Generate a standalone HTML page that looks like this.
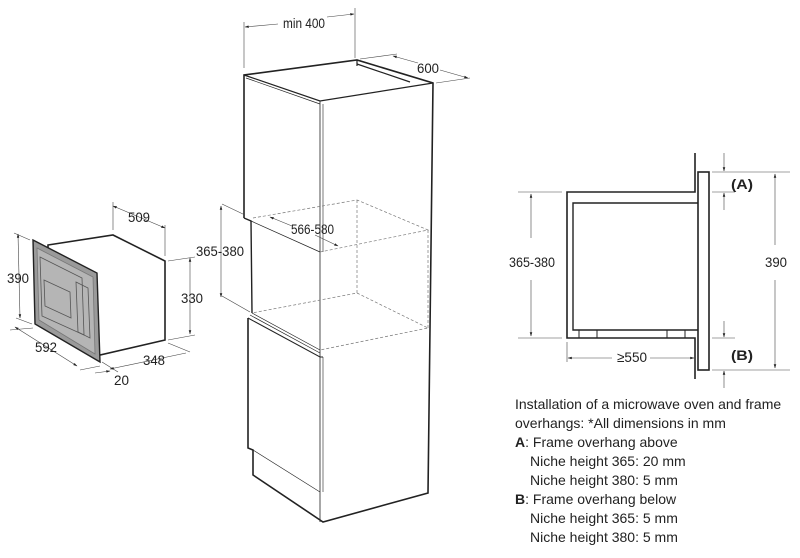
<!DOCTYPE html>
<html><head><meta charset="utf-8"><style>
body{margin:0;background:#fff}
svg{display:block}
text{font-family:"Liberation Sans",sans-serif;fill:#222}
</style></head><body>
<svg width="800" height="558" viewBox="0 0 800 558" xmlns="http://www.w3.org/2000/svg">
<defs>
<marker id="a" viewBox="0 0 10 10" refX="9" refY="5" markerWidth="7" markerHeight="7" orient="auto-start-reverse"><path d="M0,2 L10,5 L0,8z" fill="#222"/></marker>
</defs>
<!-- Microwave -->
<g stroke="#222" fill="none">
<polygon points="48,245 113,235 165,261 165,340 100,355 48,330" fill="#fff" stroke-width="1.6"/>
<polygon points="33,240 97,273 100,362 35,324" fill="#9a9a9a" stroke-width="1.4"/>
<polygon points="37,248 93,277 95,354 39,320" fill="#b5b5b5" stroke="#777" stroke-width="0.8"/>
<polygon points="40,257 82,278 84,335 42,316" fill="none" stroke="#555" stroke-width="0.8"/>
<polygon points="44,280 70,292 71,318 45,306" fill="none" stroke="#555" stroke-width="0.8"/>
<polygon points="76,282 88,288 90,338 78,332" fill="none" stroke="#555" stroke-width="0.8"/>
<g stroke-width="0.6" stroke="#444">
<line x1="113" y1="230" x2="113" y2="202"/><line x1="165" y1="256" x2="165" y2="225"/>
<line x1="113" y1="206" x2="165" y2="228" marker-start="url(#a)" marker-end="url(#a)"/>
<line x1="168" y1="261" x2="195" y2="257"/><line x1="168" y1="340" x2="195" y2="335"/>
<line x1="190" y1="258" x2="190" y2="334" marker-start="url(#a)" marker-end="url(#a)"/>
<line x1="30" y1="240" x2="14" y2="233"/><line x1="32" y1="324" x2="16" y2="318"/>
<line x1="18" y1="234" x2="20" y2="318" marker-start="url(#a)" marker-end="url(#a)"/>
<line x1="33" y1="328" x2="10" y2="330"/><line x1="100" y1="366" x2="80" y2="370"/>
<line x1="15" y1="327" x2="77" y2="366" marker-start="url(#a)" marker-end="url(#a)"/>
<line x1="102" y1="362" x2="118" y2="372"/><line x1="168" y1="343" x2="190" y2="352"/>
<line x1="95" y1="373" x2="110" y2="371" marker-end="url(#a)"/>
<line x1="110" y1="369" x2="186" y2="353" marker-start="url(#a)"/>
</g>
</g>
<text x="128" y="222" font-size="14" textLength="22" lengthAdjust="spacingAndGlyphs">509</text>
<text x="181" y="303" font-size="14" textLength="22" lengthAdjust="spacingAndGlyphs">330</text>
<text x="7" y="283" font-size="14" textLength="22" lengthAdjust="spacingAndGlyphs">390</text>
<text x="35" y="352" font-size="14" textLength="22" lengthAdjust="spacingAndGlyphs">592</text>
<text x="143" y="365" font-size="14" textLength="22" lengthAdjust="spacingAndGlyphs">348</text>
<text x="114" y="385" font-size="14" textLength="15" lengthAdjust="spacingAndGlyphs">20</text>
<!-- Cabinet -->
<g stroke="#222" fill="none">
<polyline points="244,218 244,75 357,60 433,83 428,493 323,522 253,475 253,450 248,448 248,318" stroke-width="1.6"/>
<polyline points="244,75 320,101 433,83" stroke-width="1.2"/>
<line x1="246" y1="78" x2="320" y2="104" stroke-width="0.7"/>
<line x1="357" y1="60" x2="357" y2="66" stroke-width="1.2"/><line x1="357" y1="64" x2="410" y2="82" stroke-width="1.2"/>
<line x1="320" y1="101" x2="320" y2="522" stroke-width="0.8"/>
<line x1="323" y1="104" x2="323" y2="252" stroke-width="0.6"/>
<polyline points="244,218 251,221 252,313" stroke-width="1.4"/>
<line x1="251" y1="221" x2="320" y2="252" stroke-width="0.7"/>
<line x1="252" y1="313" x2="320" y2="350" stroke-width="0.7"/>
<polyline points="248,318 320,357 323,357" stroke-width="1"/>
<line x1="250" y1="315" x2="320" y2="353" stroke-width="0.7"/>
<line x1="253" y1="450" x2="320" y2="492" stroke-width="0.6"/>
<line x1="323" y1="357" x2="323" y2="492" stroke-width="0.6"/>
<g stroke="#777" stroke-width="0.7" stroke-dasharray="3,2">
<polyline points="253,218 357,200 428,230 320,252"/>
<polyline points="357,200 357,293 252,313"/>
<polyline points="357,293 428,328 320,350"/>
<line x1="428" y1="230" x2="428" y2="328"/>
</g>
<g stroke-width="0.6" stroke="#444">
<line x1="244" y1="68" x2="244" y2="22"/><line x1="355" y1="58" x2="355" y2="8"/>
<line x1="245" y1="27" x2="278" y2="24" marker-start="url(#a)"/>
<line x1="327" y1="17" x2="354" y2="14" marker-end="url(#a)"/>
<line x1="360" y1="59" x2="397" y2="54"/><line x1="436" y1="83" x2="470" y2="78"/>
<line x1="393" y1="56" x2="418" y2="63" marker-start="url(#a)"/>
<line x1="440" y1="70" x2="468" y2="78" marker-end="url(#a)"/>
<line x1="222" y1="204" x2="245" y2="215"/><line x1="222" y1="296" x2="250" y2="312"/>
<line x1="221" y1="206" x2="221" y2="297" marker-start="url(#a)" marker-end="url(#a)"/>
<line x1="270" y1="217" x2="292" y2="226" marker-start="url(#a)"/>
<line x1="315" y1="235" x2="338" y2="246" marker-end="url(#a)"/>
</g>
</g>
<text x="283" y="28" font-size="14" textLength="42" lengthAdjust="spacingAndGlyphs">min 400</text>
<text x="417" y="73" font-size="14" textLength="22" lengthAdjust="spacingAndGlyphs">600</text>
<text x="291" y="234" font-size="14" textLength="43" lengthAdjust="spacingAndGlyphs">566-580</text>
<text x="196" y="256" font-size="14" textLength="48" lengthAdjust="spacingAndGlyphs">365-380</text>
<!-- Side section -->
<g stroke="#222" fill="none">
<polyline points="695,153 695,192 567,192 567,338 695,338 695,379" stroke-width="1.6"/>
<polyline points="698,203 573,203 573,330 698,330" stroke-width="1.4"/>
<rect x="698" y="172" width="11" height="198" stroke-width="1.6" fill="#fff"/>
<rect x="579" y="330" width="18" height="8" stroke-width="1"/>
<rect x="667" y="330" width="18" height="8" stroke-width="1"/>
<g stroke-width="0.6" stroke="#444">
<line x1="518" y1="192" x2="562" y2="192"/><line x1="518" y1="338" x2="562" y2="338"/>
<line x1="531" y1="194" x2="531" y2="238" marker-start="url(#a)"/>
<line x1="531" y1="280" x2="531" y2="336" marker-end="url(#a)"/>
<line x1="567" y1="342" x2="567" y2="362"/>
<line x1="568" y1="358" x2="612" y2="358" marker-start="url(#a)"/>
<line x1="650" y1="358" x2="694" y2="358" marker-end="url(#a)"/>
<line x1="712" y1="172" x2="790" y2="172"/><line x1="712" y1="370" x2="790" y2="370"/>
<line x1="712" y1="192" x2="735" y2="192"/><line x1="712" y1="338" x2="735" y2="338"/>
<line x1="724" y1="153" x2="724" y2="171" marker-end="url(#a)"/>
<line x1="724" y1="210" x2="724" y2="193" marker-end="url(#a)"/>
<line x1="724" y1="321" x2="724" y2="337" marker-end="url(#a)"/>
<line x1="724" y1="388" x2="724" y2="371" marker-end="url(#a)"/>
<line x1="775" y1="174" x2="775" y2="245" marker-start="url(#a)"/>
<line x1="775" y1="280" x2="775" y2="368" marker-end="url(#a)"/>
</g>
</g>
<text x="509" y="267" font-size="14" textLength="46" lengthAdjust="spacingAndGlyphs">365-380</text>
<text x="617" y="362" font-size="14" textLength="30" lengthAdjust="spacingAndGlyphs">≥550</text>
<text x="765" y="267" font-size="14" textLength="22" lengthAdjust="spacingAndGlyphs">390</text>
<text x="731" y="189" font-size="14" font-weight="bold" textLength="22" lengthAdjust="spacingAndGlyphs">(A)</text>
<text x="731" y="360" font-size="14" font-weight="bold" textLength="22" lengthAdjust="spacingAndGlyphs">(B)</text>
<g font-size="14">
<text x="515" y="409">Installation of a microwave oven and frame</text>
<text x="515" y="428">overhangs: *All dimensions in mm</text>
<text x="515" y="447"><tspan font-weight="bold">A</tspan>: Frame overhang above</text>
<text x="530" y="466">Niche height 365: 20 mm</text>
<text x="530" y="485">Niche height 380: 5 mm</text>
<text x="515" y="504"><tspan font-weight="bold">B</tspan>: Frame overhang below</text>
<text x="530" y="523">Niche height 365: 5 mm</text>
<text x="530" y="542">Niche height 380: 5 mm</text>
</g>
</svg>
</body></html>
